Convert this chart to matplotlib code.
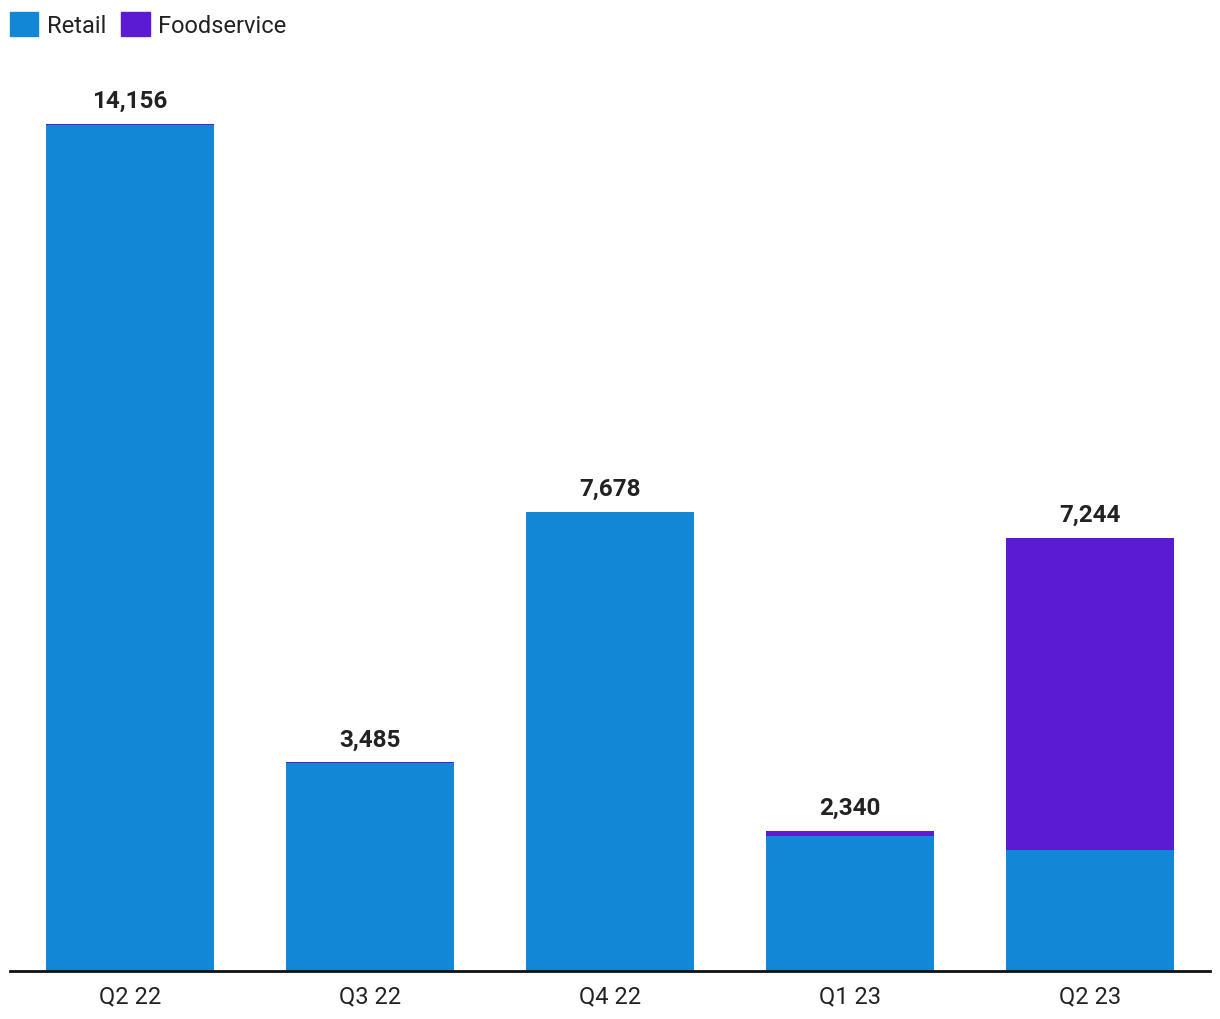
import matplotlib
matplotlib.use("Agg")
import matplotlib.pyplot as plt
from matplotlib.patches import Patch

plt.rcParams['font.family'] = ['Roboto', 'DejaVu Sans']

categories = ["Q2 22", "Q3 22", "Q4 22", "Q1 23", "Q2 23"]
retail = [14136, 3477, 7678, 2255, 2022]
foodservice = [20, 8, 0, 85, 5222]
totals = [14156, 3485, 7678, 2340, 7244]

c_retail = "#1287d6"
c_food = "#5a1bd3"

W, H = 1220, 1020
fig = plt.figure(figsize=(W / 100, H / 100), dpi=100)
base_px, top_px = 972, 60
scale = (972 - 125) / 14156.0
ymax = (base_px - top_px) / scale
ax = fig.add_axes([10 / W, (H - base_px) / H, 1200 / W, (base_px - top_px) / H])

x = list(range(len(categories)))
ax.bar(x, retail, width=0.7, color=c_retail, linewidth=0)
ax.bar(x, foodservice, width=0.7, bottom=retail, color=c_food, linewidth=0)

for xi, t in zip(x, totals):
    ax.annotate(f"{t:,}", (xi, t), xytext=(0, 8.5), textcoords="offset points",
                ha="center", va="bottom", fontsize=17.5, fontweight="bold", color="#222222")

ax.set_xlim(-0.5, len(categories) - 0.5)
ax.set_ylim(0, ymax)
ax.set_xticks(x)
ax.set_xticklabels(categories, fontsize=17, color="#222222")
ax.tick_params(axis="x", length=0, pad=9.5)
ax.set_yticks([])
for s in ["top", "right", "left"]:
    ax.spines[s].set_visible(False)
ax.spines["bottom"].set_linewidth(2)
ax.spines["bottom"].set_color("#111111")

handles = [Patch(color=c_retail, label="Retail"), Patch(color=c_food, label="Foodservice")]
fig.legend(handles=handles, loc="upper left", bbox_to_anchor=(10 / W, 1 - 13 / H), ncol=2,
           frameon=False, fontsize=17, handlelength=1.2, handleheight=1.2,
           handletextpad=0.35, columnspacing=0.65, labelcolor="#222222",
           borderaxespad=0, borderpad=0)

fig.savefig("out.png", dpi=100)
